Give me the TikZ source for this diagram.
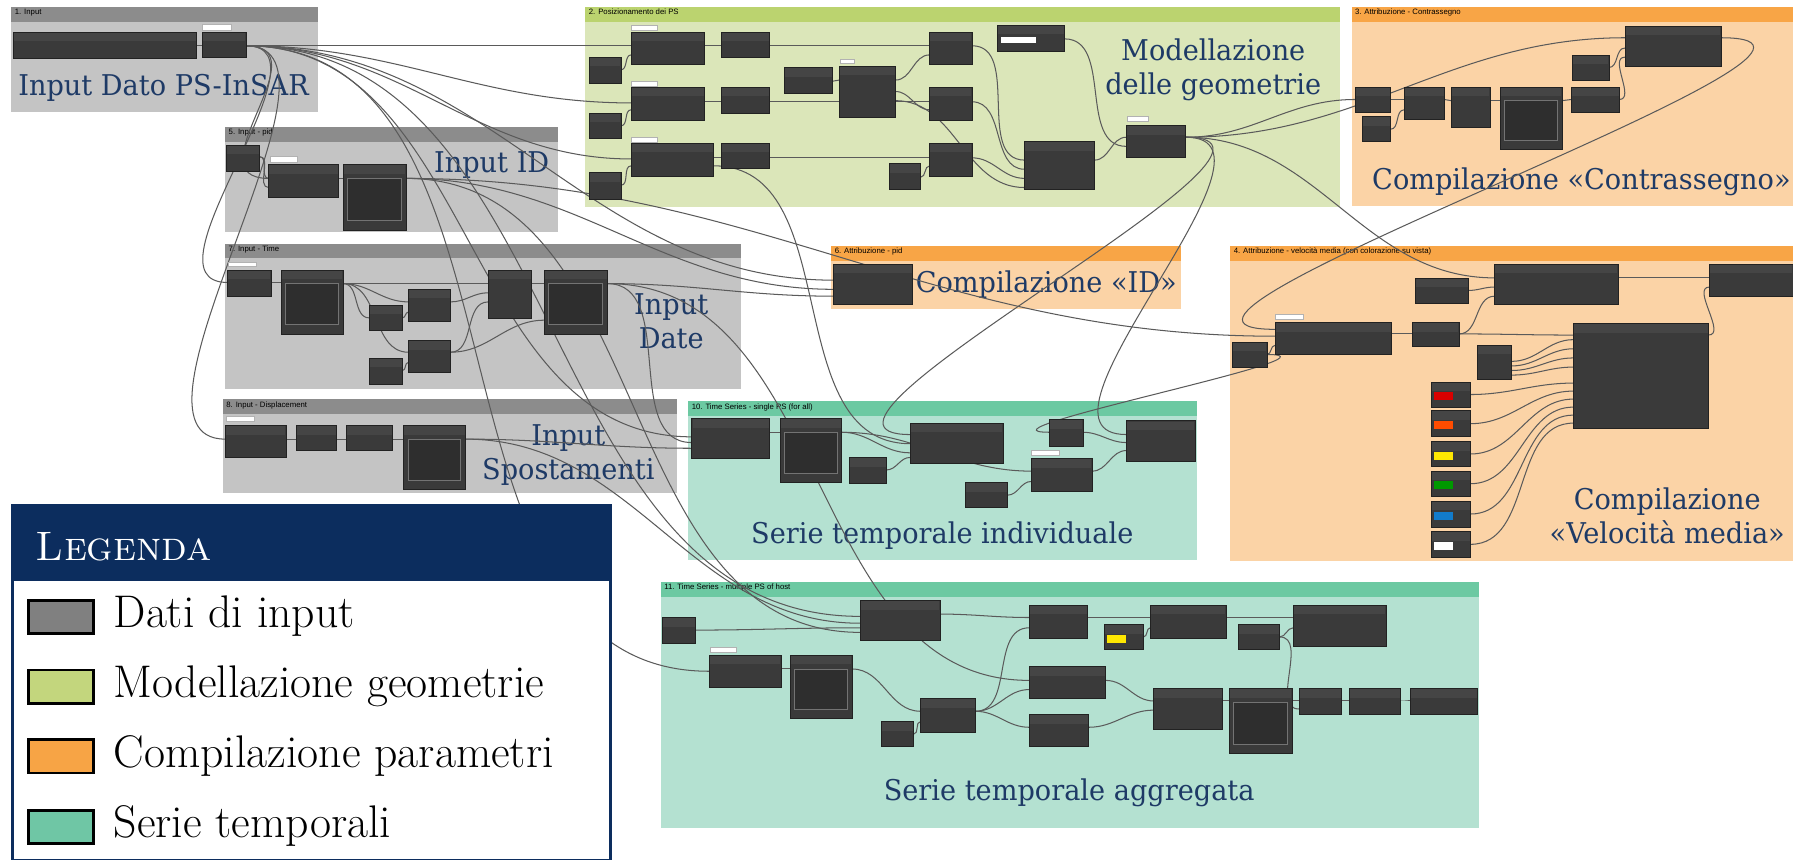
\documentclass[tikz,border=0pt]{standalone}
\usepackage{fontspec}
\newfontfamily\lblfont[FakeStretch=0.95]{DejaVu Serif}
\newfontfamily\hdrfont{Liberation Sans}
\usetikzlibrary{calc}
\definecolor{gHdrGray}{HTML}{8C8C8C}
\definecolor{gBodyGray}{HTML}{C4C4C4}
\definecolor{gHdrGreen}{HTML}{BBD36F}
\definecolor{gBodyGreen}{HTML}{DBE6B9}
\definecolor{gHdrOrange}{HTML}{F8A546}
\definecolor{gBodyOrange}{HTML}{FBD3A6}
\definecolor{gHdrTeal}{HTML}{6CC9A2}
\definecolor{gBodyTeal}{HTML}{B4E1D1}
\definecolor{nodeBody}{HTML}{3A3A3A}
\definecolor{nodeHdr}{HTML}{454545}
\definecolor{nodeEdge}{HTML}{222222}
\definecolor{wireCol}{HTML}{5A5A5A}
\definecolor{lblBlue}{HTML}{1E3A66}
\definecolor{navy}{HTML}{0C2D5E}
\definecolor{legGray}{HTML}{808080}
\definecolor{legGreen}{HTML}{C3D67D}
\definecolor{legOrange}{HTML}{F7A445}
\definecolor{legTeal}{HTML}{6FC6A5}
\pgfdeclarelayer{bg}\pgfdeclarelayer{wires}
\pgfsetlayers{bg,wires,main}
\tikzset{
  dyn/.style={rectangle, fill=nodeBody, draw=nodeEdge, line width=0.3pt, inner sep=0pt, outer sep=0pt},
  tagbox/.style={rectangle, fill=white, draw=gray!60, line width=0.2pt, inner sep=0pt, outer sep=0pt},
  grptitle/.style={anchor=north west, inner sep=0.3pt, font=\hdrfont\fontsize{3.4}{4}\selectfont, text=black},
  biglbl/.style={font=\lblfont\fontsize{12.5}{15}\selectfont, text=lblBlue, align=center, inner sep=0pt},
  wire/.style={draw=wireCol, line width=0.45pt},
  legtxt/.style={anchor=west, inner sep=0pt, font=\fontsize{20}{22}\selectfont, text=black},
  legsw/.style={rectangle, draw=black, line width=1.2pt, minimum width=28.5pt, minimum height=14.5pt, inner sep=0pt},
}
\newcommand\grp[8]{\begin{pgfonlayer}{bg}\fill[#7] (#2,#3) rectangle (#4,#5);\fill[#6] (#2,#3) rectangle (#4,{#3+13});\node[grptitle] (#1) at ({#2+2},{#3+1}) {#8};\end{pgfonlayer}}
\newcommand\dn[5]{\node[dyn, minimum width={(#4-#2)*0.5pt}, minimum height={(#5-#3)*0.5pt}] (#1) at ({(#2+#4)/2},{(#3+#5)/2}) {};\fill[nodeHdr] ([xshift=0.3pt,yshift=-0.3pt]#1.north west) rectangle ([xshift=-0.3pt,yshift=-4pt]#1.north east);}
\newcommand\wn[5]{\dn{#1}{#2}{#3}{#4}{#5}\draw[draw=black!55, line width=0.35pt, fill=black!82] ([xshift=2pt,yshift=-6pt]#1.north west) rectangle ([xshift=-2pt,yshift=4pt]#1.south east);}
\newcommand\sw[6]{\dn{#1}{#2}{#3}{#4}{#5}\fill[#6] ({#2+2},{(#3+#5)/2-2}) rectangle ({#2+19},{(#3+#5)/2+5});}
\newcommand\tg[5]{\node[tagbox, minimum width={(#4-#2)*0.5pt}, minimum height={(#5-#3)*0.5pt}] (#1) at ({(#2+#4)/2},{(#3+#5)/2}) {};}
\begin{document}
\begin{tikzpicture}[x=0.5pt,y=-0.5pt]
\useasboundingbox (0,0) rectangle (1568,752);
\begin{pgfonlayer}{bg}\fill[white] (0,0) rectangle (1568,752);\end{pgfonlayer}
% ---------------- groups
\grp{g1}{10}{6}{278}{98}{gHdrGray}{gBodyGray}{1. Input}
\grp{g5}{197}{111}{488}{203}{gHdrGray}{gBodyGray}{5. Input - pid}
\grp{g7}{197}{213}{648}{340}{gHdrGray}{gBodyGray}{7. Input - Time}
\grp{g8}{195}{349}{592}{431}{gHdrGray}{gBodyGray}{8. Input - Displacement}
\grp{g2}{512}{6}{1172}{181}{gHdrGreen}{gBodyGreen}{2. Posizionamento dei PS}
\grp{g3}{1182}{6}{1568}{180}{gHdrOrange}{gBodyOrange}{3. Attribuzione - Contrassegno}
\grp{g6}{727}{215}{1033}{270}{gHdrOrange}{gBodyOrange}{6. Attribuzione - pid}
\grp{g4}{1076}{215}{1568}{491}{gHdrOrange}{gBodyOrange}{4. Attribuzione - velocità media (con colorazione su vista)}
\grp{g10}{602}{351}{1047}{490}{gHdrTeal}{gBodyTeal}{10. Time Series - single PS (for all)}
\grp{g11}{578}{509}{1293}{724}{gHdrTeal}{gBodyTeal}{11. Time Series - multiple PS of host}
% ---------------- group labels
\begin{pgfonlayer}{bg}
\node[biglbl] (l1) at (143,77) {Input Dato PS-InSAR};
\node[biglbl] (l5) at (430,144) {Input ID};
\node[biglbl] (l7) at (587,281) {Input\\Date};
\node[biglbl] (l8) at (497,398) {Input\\Spostamenti};
\node[biglbl] (l2) at (1061,61) {Modellazione\\delle geometrie};
\node[biglbl] (l3) at (1383,159) {Compilazione «Contrassegno»};
\node[biglbl] (l6) at (915,249) {Compilazione «ID»};
\node[biglbl] (l4) at (1458,451) {Compilazione\\«Velocità media»};
\node[biglbl] (l10) at (824,468) {Serie temporale individuale};
\node[biglbl] (l11) at (935,693) {Serie temporale aggregata};
\end{pgfonlayer}
% ---------------- nodes G1
\dn{n1a}{12}{28}{172}{51}
\tg{t1b}{177}{21}{202}{26}
\dn{n1b}{177}{28}{215}{50}
% G5
\dn{n5a}{198}{127}{227}{150}
\tg{t5b}{236}{137}{260}{142}
\dn{n5b}{235}{144}{296}{173}
\wn{n5c}{300}{144}{355}{201}
% G7
\tg{t7a}{200}{229}{224}{233}
\dn{n7a}{199}{236}{237}{259}
\wn{n7b}{246}{236}{300}{292}
\dn{n7c}{323}{267}{352}{289}
\dn{n7d}{357}{253}{394}{281}
\dn{n7e}{323}{313}{352}{336}
\dn{n7f}{357}{298}{394}{326}
\dn{n7g}{427}{236}{465}{278}
\wn{n7h}{476}{236}{531}{292}
% G8
\tg{t8a}{198}{364}{222}{368}
\dn{n8a}{197}{372}{250}{400}
\dn{n8b}{259}{372}{294}{394}
\dn{n8c}{303}{372}{343}{394}
\wn{n8d}{353}{372}{407}{428}
% G2
\dn{n2s1}{515}{50}{543}{73}
\dn{n2s2}{515}{99}{543}{121}
\dn{n2s3}{515}{151}{543}{174}
\tg{t2a}{552}{22}{575}{26}
\dn{n2a}{552}{28}{616}{56}
\tg{t2b}{552}{71}{575}{75}
\dn{n2b}{552}{76}{616}{105}
\tg{t2c}{552}{120}{575}{124}
\dn{n2c}{552}{125}{624}{154}
\dn{n2d}{631}{28}{673}{50}
\dn{n2e}{631}{76}{673}{99}
\dn{n2f}{631}{125}{673}{147}
\dn{n2g}{686}{59}{728}{82}
\tg{t2h}{735}{52}{747}{55}
\dn{n2h}{734}{58}{783}{103}
\dn{n2i}{813}{28}{850}{56}
\dn{n2j}{813}{76}{850}{105}
\dn{n2k}{813}{125}{850}{154}
\dn{n2l}{778}{143}{805}{166}
\dn{n2m}{872}{22}{931}{45}
\fill[white] (875,32) rectangle (906,38);
\dn{n2n}{896}{124}{957}{166}
\tg{t2o}{986}{102}{1004}{106}
\dn{n2o}{985}{110}{1037}{138}
% G3
\dn{n3a}{1185}{76}{1216}{98}
\dn{n3b}{1191}{102}{1216}{124}
\dn{n3c}{1228}{76}{1263}{104}
\dn{n3d}{1269}{76}{1303}{111}
\wn{n3e}{1312}{76}{1366}{131}
\dn{n3f}{1375}{48}{1407}{70}
\dn{n3g}{1374}{76}{1416}{98}
\dn{n3h}{1421}{23}{1505}{58}
% G6
\dn{n6a}{729}{231}{798}{266}
% G4
\dn{n4a}{1078}{299}{1108}{321}
\tg{t4b}{1115}{275}{1140}{279}
\dn{n4b}{1115}{282}{1217}{310}
\dn{n4c}{1238}{243}{1284}{265}
\dn{n4d}{1235}{282}{1276}{303}
\dn{n4e}{1307}{231}{1415}{266}
\dn{n4f}{1495}{231}{1568}{259}
\dn{n4g}{1292}{302}{1322}{332}
\dn{n4h}{1376}{283}{1494}{375}
\sw{s1}{1252}{334}{1286}{356}{red!85!black}
\sw{s2}{1252}{359}{1286}{382}{orange!60!red}
\sw{s3}{1252}{386}{1286}{408}{yellow!90!orange}
\sw{s4}{1252}{412}{1286}{434}{green!60!black}
\sw{s5}{1252}{438}{1286}{461}{cyan!60!blue}
\sw{s6}{1252}{465}{1286}{487}{white}
% G10
\dn{n10a}{605}{366}{673}{401}
\wn{n10b}{682}{366}{736}{422}
\dn{n10c}{743}{400}{775}{423}
\dn{n10d}{796}{370}{877}{405}
\dn{n10e}{918}{367}{947}{390}
\dn{n10f}{985}{368}{1045}{403}
\tg{t10g}{902}{394}{926}{398}
\dn{n10g}{902}{401}{955}{430}
\dn{n10h}{844}{422}{881}{444}
% G11
\dn{n11a}{579}{540}{608}{563}
\tg{t11b}{621}{566}{644}{570}
\dn{n11b}{620}{573}{683}{601}
\wn{n11c}{691}{573}{745}{628}
\dn{n11d}{752}{525}{822}{560}
\dn{n11e}{771}{631}{799}{653}
\dn{n11f}{805}{611}{853}{640}
\dn{n11g}{900}{529}{951}{558}
\dn{n11h}{900}{583}{967}{611}
\dn{n11i}{900}{625}{952}{653}
\sw{n11j}{966}{546}{1000}{568}{yellow!90!orange}
\dn{n11k}{1006}{529}{1072}{558}
\dn{n11l}{1083}{546}{1119}{568}
\dn{n11m}{1131}{529}{1212}{565}
\dn{n11n}{1009}{602}{1069}{638}
\wn{n11o}{1075}{602}{1130}{659}
\dn{n11p}{1136}{602}{1173}{625}
\dn{n11q}{1180}{602}{1225}{625}
\dn{n11r}{1233}{602}{1292}{625}
% ---------------- wires
\begin{pgfonlayer}{wires}
% G1
\draw[wire] ([yshift=-6pt]n1a.north east) to[out=0,in=180] ([yshift=-6pt]n1b.north west);
\draw[wire] ([yshift=-6pt]n1b.north east) to[out=0,in=180] ([yshift=-6pt]n2a.north west);
\draw[wire] ([yshift=-6pt]n1b.north east) to[out=0,in=180] ([yshift=-7pt]n2b.north west);
\draw[wire] ([yshift=-6pt]n1b.north east) to[out=0,in=180] ([yshift=-7pt]n2c.north west);
\draw[wire] ([yshift=-6pt]n1b.north east) to[out=0,in=180,looseness=1.5] ([yshift=-6pt]n5b.north west);
\draw[wire] ([yshift=-6pt]n1b.north east) to[out=0,in=180] ([yshift=-5.5pt]n7a.north west);
\draw[wire] ([yshift=-6pt]n1b.north east) to[out=0,in=180,looseness=0.8] ([yshift=-6pt]n8a.north west);
\draw[wire] ([yshift=-6pt]n1b.north east) to[out=0,in=180] ([yshift=-7pt]n6a.north west);
\draw[wire] ([yshift=-6pt]n1b.north east) to[out=0,in=180] ([yshift=-8pt]n10a.north west);
\draw[wire] ([yshift=-6pt]n1b.north east) to[out=0,in=180] ([yshift=-7pt]n11b.north west);
\draw[wire] ([yshift=-6pt]n1b.north east) to[out=0,in=180] ([yshift=-7pt]n11d.north west);
% G5
\draw[wire] ([yshift=-5pt]n5a.north east) to[out=0,in=180] ([yshift=-6pt]n5b.north west);
\draw[wire] ([yshift=-5pt]n5a.north east) to[out=0,in=180] ([yshift=-10pt]n5b.north west);
\draw[wire] ([yshift=-6pt]n5b.north east) to[out=0,in=180] ([yshift=-6pt]n5c.north west);
\draw[wire] ([yshift=-6pt]n5c.north east) to[out=0,in=180] ([yshift=-11pt]n6a.north west);
\draw[wire] ([yshift=-6pt]n5c.north east) to[out=0,in=180] ([yshift=-6pt]n4b.north west);
\draw[wire] ([yshift=-6pt]n5c.north east) to[out=0,in=180] ([yshift=-14pt]n11d.north west);
% G7
\draw[wire] ([yshift=-5.5pt]n7a.north east) to[out=0,in=180] ([yshift=-5.5pt]n7b.north west);
\draw[wire] ([yshift=-6pt]n7b.north east) to[out=0,in=180] ([yshift=-5.5pt]n7d.north west);
\draw[wire] ([yshift=-6pt]n7b.north east) to[out=0,in=180] ([yshift=-5.5pt]n7c.north west);
\draw[wire] ([yshift=-6pt]n7b.north east) to[out=0,in=180] ([yshift=-5pt]n7f.north west);
\draw[wire] ([yshift=-5.5pt]n7c.north east) to[out=0,in=180] ([yshift=-10pt]n7d.north west);
\draw[wire] ([yshift=-5.5pt]n7e.north east) to[out=0,in=180] ([yshift=-9.5pt]n7f.north west);
\draw[wire] ([yshift=-6pt]n7b.north east) to[out=0,in=180] ([yshift=-6pt]n7g.north west);
\draw[wire] ([yshift=-5.5pt]n7d.north east) to[out=0,in=180] ([yshift=-10pt]n7g.north west);
\draw[wire] ([yshift=-5pt]n7f.north east) to[out=0,in=180] ([yshift=-14pt]n7g.north west);
\draw[wire] ([yshift=-5pt]n7f.north east) to[out=0,in=180] ([yshift=-22pt]n7h.north west);
\draw[wire] ([yshift=-6pt]n7g.north east) to[out=0,in=180] ([yshift=-6pt]n7h.north west);
\draw[wire] ([yshift=-6pt]n7h.north east) to[out=0,in=180] ([yshift=-10.5pt]n10a.north west);
\draw[wire] ([yshift=-6pt]n7h.north east) to[out=0,in=180] ([yshift=-14pt]n6a.north west);
\draw[wire] ([yshift=-6pt]n7h.north east) to[out=0,in=180] ([yshift=-6pt]n11h.north west);
% G8
\draw[wire] ([yshift=-6pt]n8a.north east) to[out=0,in=180] ([yshift=-6pt]n8b.north west);
\draw[wire] ([yshift=-6pt]n8b.north east) to[out=0,in=180] ([yshift=-6pt]n8c.north west);
\draw[wire] ([yshift=-6pt]n8c.north east) to[out=0,in=180] ([yshift=-6pt]n8d.north west);
\draw[wire] ([yshift=-6pt]n8d.north east) to[out=0,in=180] ([yshift=-13pt]n10a.north west);
\draw[wire] ([yshift=-6pt]n8d.north east) to[out=0,in=180] ([yshift=-10pt]n11d.north west);
% G2
\draw[wire] ([yshift=-5.5pt]n2s1.north east) to[out=0,in=180] ([yshift=-10pt]n2a.north west);
\draw[wire] ([yshift=-5.5pt]n2s2.north east) to[out=0,in=180] ([yshift=-10pt]n2b.north west);
\draw[wire] ([yshift=-5.5pt]n2s3.north east) to[out=0,in=180] ([yshift=-10pt]n2c.north west);
\draw[wire] ([yshift=-6pt]n2a.north east) to[out=0,in=180] ([yshift=-6pt]n2d.north west);
\draw[wire] ([yshift=-6.5pt]n2b.north east) to[out=0,in=180] ([yshift=-6.5pt]n2e.north west);
\draw[wire] ([yshift=-6.5pt]n2c.north east) to[out=0,in=180] ([yshift=-6.5pt]n2f.north west);
\draw[wire] ([yshift=-6pt]n2d.north east) to[out=0,in=180] ([yshift=-6pt]n2i.north west);
\draw[wire] ([yshift=-6.5pt]n2e.north east) to[out=0,in=180] ([yshift=-6.5pt]n2j.north west);
\draw[wire] ([yshift=-6.5pt]n2f.north east) to[out=0,in=180] ([yshift=-6.5pt]n2k.north west);
\draw[wire] ([yshift=-6pt]n2g.north east) to[out=0,in=180] ([yshift=-6pt]n2h.north west);
\draw[wire] ([yshift=-6pt]n2h.north east) to[out=0,in=180] ([yshift=-10pt]n2i.north west);
\draw[wire] ([yshift=-11pt]n2h.north east) to[out=0,in=180] ([yshift=-10pt]n2j.north west);
\draw[wire] ([yshift=-15pt]n2h.north east) to[out=0,in=180] ([yshift=-20pt]n2n.north west);
\draw[wire] ([yshift=-6pt]n2l.north east) to[out=0,in=180] ([yshift=-10pt]n2k.north west);
\draw[wire] ([yshift=-6pt]n2i.north east) to[out=0,in=180] ([yshift=-8pt]n2n.north west);
\draw[wire] ([yshift=-6.5pt]n2j.north east) to[out=0,in=180] ([yshift=-12pt]n2n.north west);
\draw[wire] ([yshift=-6.5pt]n2k.north east) to[out=0,in=180] ([yshift=-16pt]n2n.north west);
\draw[wire] ([yshift=-6pt]n2m.north east) to[out=0,in=180] ([yshift=-9pt]n2o.north west);
\draw[wire] ([yshift=-8pt]n2n.north east) to[out=0,in=180] ([yshift=-5pt]n2o.north west);
\draw[wire] ([yshift=-10pt]n2c.north east) to[out=0,in=180] ([yshift=-9pt]n10d.north west);
% from n2o
\draw[wire] ([yshift=-5pt]n2o.north east) to[out=0,in=180] ([yshift=-5.5pt]n3a.north west);
\draw[wire] ([yshift=-5pt]n2o.north east) to[out=0,in=180] ([yshift=-5pt]n3h.north west);
\draw[wire] ([yshift=-5pt]n2o.north east) to[out=0,in=180] ([yshift=-6pt]n4e.north west);
\draw[wire] ([yshift=-5pt]n2o.north east) to[out=0,in=180] ([yshift=-5pt]n10d.north west);
\draw[wire] ([yshift=-5pt]n2o.north east) to[out=0,in=180] ([yshift=-6pt]n10f.north west);
% G3
\draw[wire] ([yshift=-5.5pt]n3a.north east) to[out=0,in=180] ([yshift=-5.5pt]n3c.north west);
\draw[wire] ([yshift=-5.5pt]n3b.north east) to[out=0,in=180] ([yshift=-10pt]n3c.north west);
\draw[wire] ([yshift=-5.5pt]n3c.north east) to[out=0,in=180] ([yshift=-6pt]n3d.north west);
\draw[wire] ([yshift=-6pt]n3d.north east) to[out=0,in=180] ([yshift=-6pt]n3e.north west);
\draw[wire] ([yshift=-6pt]n3e.north east) to[out=0,in=180] ([yshift=-5.5pt]n3g.north west);
\draw[wire] ([yshift=-5.5pt]n3g.north east) to[out=0,in=180] ([yshift=-13.5pt]n3h.north west);
\draw[wire] ([yshift=-5.5pt]n3f.north east) to[out=0,in=180] ([yshift=-9.5pt]n3h.north west);
\draw[wire] ([yshift=-5pt]n3h.north east) to[out=0,in=180] ([yshift=-3pt]n4b.north west);
% G4
\draw[wire] ([yshift=-5.5pt]n4a.north east) to[out=0,in=180] ([yshift=-10pt]n4b.north west);
\draw[wire] ([yshift=-5.5pt]n4a.north east) to[out=0,in=180] ([yshift=-5.5pt]n10e.north west);
\draw[wire] ([yshift=-5pt]n4b.north east) to[out=0,in=180] ([yshift=-5pt]n4d.north west);
\draw[wire] ([yshift=-5pt]n4d.north east) to[out=0,in=180] ([yshift=-5pt]n4h.north west);
\draw[wire] ([yshift=-5pt]n4d.north east) to[out=0,in=180] ([yshift=-14pt]n4e.north west);
\draw[wire] ([yshift=-5.5pt]n4c.north east) to[out=0,in=180] ([yshift=-10pt]n4e.north west);
\draw[wire] ([yshift=-6pt]n4e.north east) to[out=0,in=180] ([yshift=-6pt]n4f.north west);
\draw[wire] ([yshift=-5pt]n4h.north east) to[out=0,in=180] ([yshift=-10pt]n4f.north west);
\draw[wire] ([yshift=-7pt]n4g.north east) to[out=0,in=180] ([yshift=-7pt]n4h.north west);
\draw[wire] ([yshift=-9pt]n4g.north east) to[out=0,in=180] ([yshift=-11pt]n4h.north west);
\draw[wire] ([yshift=-11pt]n4g.north east) to[out=0,in=180] ([yshift=-15pt]n4h.north west);
\draw[wire] ([yshift=-13pt]n4g.north east) to[out=0,in=180] ([yshift=-19pt]n4h.north west);
\draw[wire] (s1.east) to[out=0,in=180] ([yshift=-26pt]n4h.north west);
\draw[wire] (s2.east) to[out=0,in=180] ([yshift=-29.5pt]n4h.north west);
\draw[wire] (s3.east) to[out=0,in=180] ([yshift=-33pt]n4h.north west);
\draw[wire] (s4.east) to[out=0,in=180] ([yshift=-36.5pt]n4h.north west);
\draw[wire] (s5.east) to[out=0,in=180] ([yshift=-40pt]n4h.north west);
\draw[wire] (s6.east) to[out=0,in=180] ([yshift=-43.5pt]n4h.north west);
% G10
\draw[wire] ([yshift=-6pt]n10a.north east) to[out=0,in=180] ([yshift=-6pt]n10b.north west);
\draw[wire] ([yshift=-6pt]n10b.north east) to[out=0,in=180] ([yshift=-13pt]n10d.north west);
\draw[wire] ([yshift=-6pt]n10b.north east) to[out=0,in=180] ([yshift=-5.5pt]n10g.north west);
\draw[wire] ([yshift=-5.5pt]n10c.north east) to[out=0,in=180] ([yshift=-15pt]n10d.north west);
\draw[wire] ([yshift=-5.5pt]n10h.north east) to[out=0,in=180] ([yshift=-10pt]n10g.north west);
\draw[wire] ([yshift=-5.5pt]n10g.north east) to[out=0,in=180] ([yshift=-13pt]n10f.north west);
\draw[wire] ([yshift=-5.5pt]n10e.north east) to[out=0,in=180] ([yshift=-9.5pt]n10f.north west);
% G11
\draw[wire] ([yshift=-5.5pt]n11a.north east) to[out=0,in=180] ([yshift=-12pt]n11d.north west);
\draw[wire] ([yshift=-6pt]n11b.north east) to[out=0,in=180] ([yshift=-6pt]n11c.north west);
\draw[wire] ([yshift=-6pt]n11c.north east) to[out=0,in=180] ([yshift=-5.5pt]n11f.north west);
\draw[wire] ([yshift=-5.5pt]n11e.north east) to[out=0,in=180] ([yshift=-10pt]n11f.north west);
\draw[wire] ([yshift=-5.5pt]n11f.north east) to[out=0,in=180] ([yshift=-10pt]n11g.north west);
\draw[wire] ([yshift=-5.5pt]n11f.north east) to[out=0,in=180] ([yshift=-10pt]n11h.north west);
\draw[wire] ([yshift=-5.5pt]n11f.north east) to[out=0,in=180] ([yshift=-5.5pt]n11i.north west);
\draw[wire] ([yshift=-6pt]n11d.north east) to[out=0,in=180] ([yshift=-5.5pt]n11g.north west);
\draw[wire] ([yshift=-5.5pt]n11g.north east) to[out=0,in=180] ([yshift=-5.5pt]n11k.north west);
\draw[wire] ([yshift=-5.5pt]n11j.north east) to[out=0,in=180] ([yshift=-10pt]n11k.north west);
\draw[wire] ([yshift=-5.5pt]n11k.north east) to[out=0,in=180] ([yshift=-5.5pt]n11m.north west);
\draw[wire] ([yshift=-5.5pt]n11l.north east) to[out=0,in=180] ([yshift=-10pt]n11m.north west);
\draw[wire] ([yshift=-6pt]n11h.north east) to[out=0,in=180] ([yshift=-5.5pt]n11n.north west);
\draw[wire] ([yshift=-5.5pt]n11i.north east) to[out=0,in=180] ([yshift=-9.5pt]n11n.north west);
\draw[wire] ([yshift=-5.5pt]n11n.north east) to[out=0,in=180] ([yshift=-5.5pt]n11o.north west);
\draw[wire] ([yshift=-5.5pt]n11o.north east) to[out=0,in=180] ([yshift=-5.5pt]n11p.north west);
\draw[wire] ([yshift=-5.5pt]n11p.north east) to[out=0,in=180] ([yshift=-5.5pt]n11q.north west);
\draw[wire] ([yshift=-5.5pt]n11q.north east) to[out=0,in=180] ([yshift=-5.5pt]n11r.north west);
\draw[wire] ([yshift=-5.5pt]n11l.north east) to[out=0,in=180] ([yshift=-9pt]n11p.north west);
\end{pgfonlayer}
% ---------------- legend
\fill[white] (11,442) rectangle (534,752);
\fill[navy] (11,442) rectangle (534,508);
\draw[navy, line width=1.2pt] (11,442) rectangle (534,752);
\node[anchor=west, inner sep=0pt, font=\fontsize{18}{20}\selectfont, text=white] (legT) at (31,478) {\textsc{Legenda}};
\node[legsw, fill=legGray] (ls1) at (53.5,539.5) {};
\node[legsw, fill=legGreen] (ls2) at (53.5,600.5) {};
\node[legsw, fill=legOrange] (ls3) at (53.5,661.5) {};
\node[legsw, fill=legTeal] (ls4) at (53.5,723) {};
\node[legtxt] (lt1) at (99,539) {Dati di input};
\node[legtxt] (lt2) at (99,600) {Modellazione geometrie};
\node[legtxt] (lt3) at (99,661) {Compilazione parametri};
\node[legtxt] (lt4) at (99,722) {Serie temporali};
\end{tikzpicture}
\end{document}
